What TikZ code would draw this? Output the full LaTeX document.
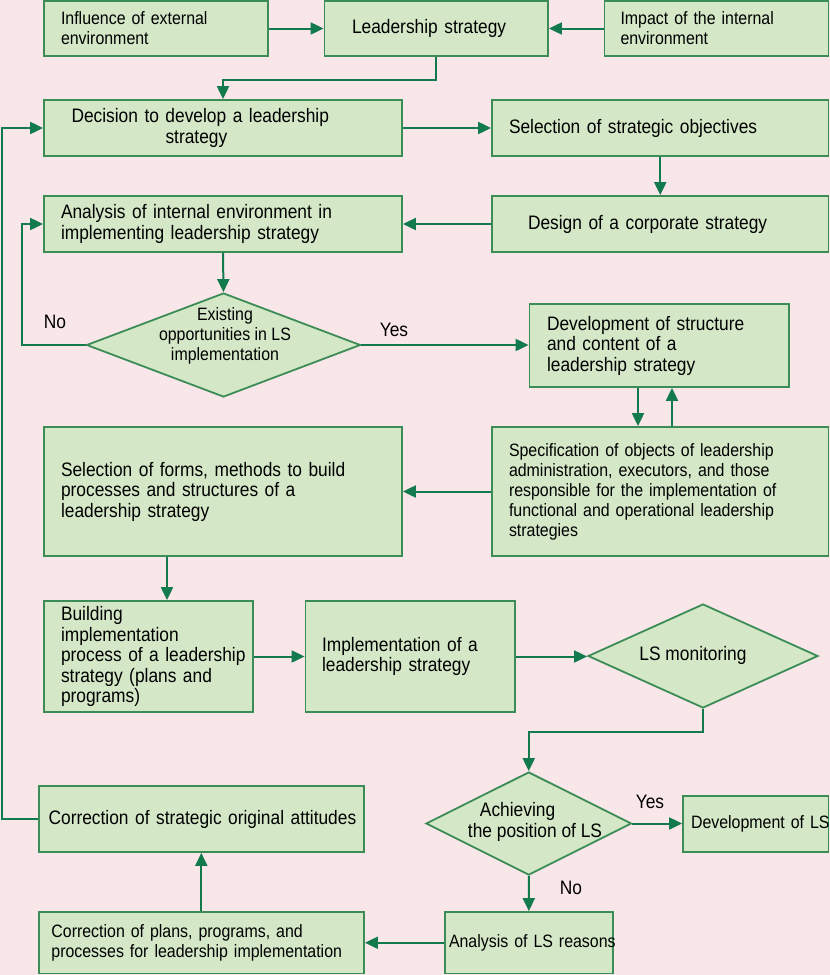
\documentclass[tikz,border=0pt]{standalone}
\usepackage{fontspec}
\setmainfont{Liberation Sans}[FakeStretch=0.89]
\usetikzlibrary{arrows.meta,shapes.geometric,calc}
\definecolor{bgc}{RGB}{249,230,232}
\definecolor{boxc}{RGB}{212,232,200}
\definecolor{bordc}{RGB}{60,140,88}
\definecolor{arrc}{RGB}{18,122,76}
\newcommand\bigf{\fontsize{19.5}{20.5}\selectfont}
\newcommand\smallf{\fontsize{17.9}{20}\selectfont}
\newcommand\bx[2]{\hyphenpenalty=10000\leftskip=#1pt\rightskip=-80pt plus 1fil\relax #2\par}
\begin{document}
\begin{tikzpicture}[x=1pt,y=-1pt,
  box/.style={draw=bordc, line width=1.8pt, fill=boxc, inner xsep=2pt, inner ysep=1pt, align=left},
  dia/.style={diamond, draw=bordc, line width=1.8pt, fill=boxc, inner sep=0pt},
  txt/.style={align=center, inner sep=0pt},
  arr/.style={draw=arrc, line width=2pt, -{Triangle[length=13pt,width=12pt]}},
  lbl/.style={inner sep=0pt, font=\bigf}]
\fill[bgc] (0,0) rectangle (830,975);
\useasboundingbox (0,0) rectangle (830,975);

% top row
\node[box, minimum width=224pt, minimum height=55pt, text width=220pt, font=\smallf] (A) at (156,28.5) {\bx{15}{Influence of external\\environment}};
\node[box, minimum width=223.5pt, minimum height=55pt, text width=219.5pt, font=\bigf] (B) at (436.25,28.5) {\bx{25.5}{Leadership strategy}};
\node[box, minimum width=224pt, minimum height=55pt, text width=220pt, font=\smallf] (C) at (716.5,28.5) {\bx{14}{Impact of the internal\\environment}};

\node[box, minimum width=358pt, minimum height=56pt, text width=354pt, font=\bigf] (D) at (223,128) {\bx{25.5}{Decision to develop a leadership\\\hspace*{94pt}strategy}};
\node[box, minimum width=336.5pt, minimum height=56pt, text width=332.5pt, font=\bigf] (E) at (660.25,128) {\bx{15}{Selection of strategic objectives}};
\node[box, minimum width=336.5pt, minimum height=56pt, text width=332.5pt, font=\bigf] (F) at (660.25,224) {\bx{34}{Design of a corporate strategy}};
\node[box, minimum width=358pt, minimum height=56pt, text width=354pt, font=\bigf] (G) at (223,224) {\bx{15}{Analysis of internal environment in\\implementing leadership strategy}};

\node[dia, minimum width=274pt, minimum height=104pt] (d1) at (223.5,345) {};
\node[txt, font=\smallf] (d1t) at (225,336) {Existing\\opportunities in LS\\implementation};

\node[box, minimum width=259.5pt, minimum height=83pt, text width=255.5pt, font=\bigf] (H) at (659.25,345.5) {\bx{15.5}{Development of structure\\and content of a\\leadership strategy}};
\node[box, minimum width=336.5pt, minimum height=129pt, text width=332.5pt, font=\smallf] (I) at (660.25,491.5) {\bx{15}{Specification of objects of leadership\\administration, executors, and those\\responsible for the implementation of\\functional and operational leadership\\strategies}\vspace*{8pt}};
\node[box, minimum width=358pt, minimum height=129pt, text width=354pt, font=\bigf] (J) at (223,491.5) {\bx{15}{Selection of forms, methods to build\\processes and structures of a\\leadership strategy}};

\node[box, minimum width=209pt, minimum height=111pt, text width=205pt, font=\bigf] (K) at (148.5,656.5) {\bx{15}{Building\\implementation\\process of a leadership\\strategy (plans and\\programs)}};
\node[box, minimum width=209.5pt, minimum height=111pt, text width=205.5pt, font=\bigf] (L) at (410.25,656.5) {\bx{14.5}{Implementation of a\\leadership strategy}};
\node[dia, minimum width=230pt, minimum height=104pt] (M) at (703,656) {};
\node[txt, font=\bigf] (Mt) at (693,655) {LS monitoring};

\node[dia, minimum width=205.5pt, minimum height=103pt] (N) at (528.75,823.5) {};
\node[txt, align=left, font=\bigf] (Nt) at (535,822) {\hspace*{12pt}Achieving\\the position of LS};
\node[box, minimum width=145.5pt, minimum height=56pt, text width=141.5pt, font=\smallf] (O) at (755.75,824) {\bx{6}{Development of LS}};
\node[box, minimum width=168.3pt, minimum height=61.5pt, text width=164.3pt, font=\smallf] (P) at (528.85,942.75) {\bx{2.3}{Analysis of LS reasons}};
\node[box, minimum width=325.4pt, minimum height=61.5pt, text width=321.4pt, font=\smallf] (Q) at (201.3,942.75) {\bx{10.8}{Correction of plans, programs, and\\processes for leadership implementation}};
\node[box, minimum width=325.4pt, minimum height=66pt, text width=321.4pt, font=\bigf] (R) at (201.3,819) {\bx{8}{Correction of strategic original attitudes}};

% labels
\node[lbl] (no1) at (55,322) {No};
\node[lbl] (yes1) at (394,330) {Yes};
\node[lbl] (yes2) at (650,802) {Yes};
\node[lbl] (no2) at (571,888) {No};

% connectors
\coordinate (c1) at (22,345);
\coordinate (c2) at (2,819);
\draw[arr] (A.east) -- (B.west);
\draw[arr] (C.west) -- (B.east);
\draw[arr] (B.south) -- ++(0,23) -| (D.north);
\draw[arr] (D.east) -- (E.west);
\draw[arr] (E.south) -- (F.north);
\draw[arr] (F.west) -- (G.east);
\draw[arr] (G.south) -- (d1.north);
\draw[arr] (d1.west) -- (c1) |- (G.west);
\draw[arr] (d1.east) -- (d1.east -| H.west);
\draw[arr] ([xshift=-21.25pt]H.south) -- ([xshift=-21.25pt]H.south |- I.north);
\draw[arr] ([xshift=12.75pt]H.south |- I.north) -- ([xshift=12.75pt]H.south);
\draw[arr] (I.west) -- (J.east);
\draw[arr] ([xshift=-56pt]J.south) -- ([xshift=-56pt]J.south |- K.north);
\draw[arr] (K.east) -- (L.west);
\draw[arr] (L.east) -- (L.east -| M.west);
\draw[arr] (M.south) -- ++(0,23) -| (N.north);
\draw[arr] (N.east) -- (N.east -| O.west);
\draw[arr] (N.south) -- (P.north);
\draw[arr] (P.west) -- (P.west -| Q.east);
\draw[arr] (Q.north) -- (R.south);
\draw[arr] (R.west) -- (c2) |- (D.west);
\end{tikzpicture}
\end{document}
